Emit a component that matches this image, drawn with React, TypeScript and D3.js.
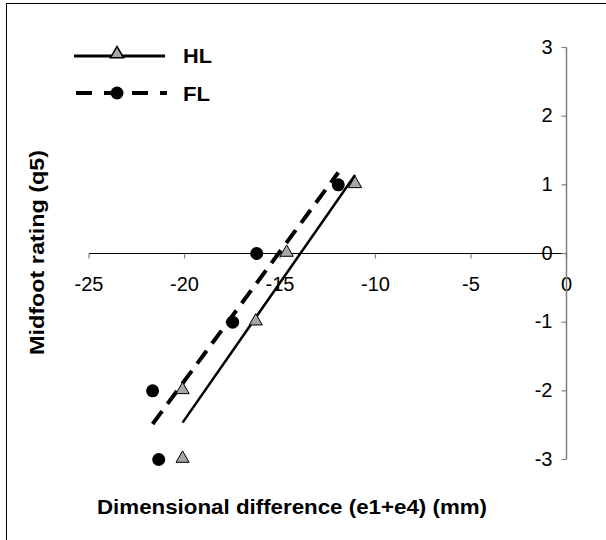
import React from "react";
import * as d3 from "d3";

const xTicks = [-25, -20, -15, -10, -5, 0];
const yTicks = [-3, -2, -1, 0, 1, 2, 3];
const hlX = [-11.07, -14.65, -16.27, -20.1, -20.1];
const hlY = [1, 0, -1, -2, -3];
const flX = [-11.95, -16.22, -17.48, -21.67, -21.35];
const flY = [1, 0, -1, -2, -3];
const seriesNames = ["HL", "FL"];
const xTitle = "Dimensional difference  (e1+e4) (mm)";
const yTitle = "Midfoot rating  (q5)";

function fit(xs: number[], ys: number[]) {
  const mx = d3.mean(xs)!;
  const my = d3.mean(ys)!;
  let sxy = 0, sxx = 0;
  xs.forEach((x, i) => { sxy += (x - mx) * (ys[i] - my); sxx += (x - mx) ** 2; });
  const b = sxy / sxx;
  const a = my - b * mx;
  const [x0, x1] = d3.extent(xs) as [number, number];
  return [[x0, a + b * x0], [x1, a + b * x1]];
}

export default function App() {
  const W = 606, H = 540;
  const x = d3.scaleLinear().domain([-25, 0]).range([89, 566.5]);
  const y = d3.scaleLinear().domain([-3, 3]).range([459.5, 47.5]);
  const font = "Arial, 'Liberation Sans', sans-serif";
  const line = d3.line<number[]>().x(d => x(d[0])).y(d => y(d[1]));
  const hlFit = fit(hlX, hlY);
  const flFit = fit(flX, flY);
  const tri = d3.symbol().type(d3.symbolTriangle).size(75)()!;
  const y0 = y(0);
  return (
    <svg width={W} height={H} style={{ position: "absolute", left: 0, top: 0, background: "#fff" }} fontFamily={font}>
      <rect x={6.5} y={3.5} width={W + 10} height={H + 10} fill="#fff" stroke="#000" strokeWidth={1} />
      {/* x axis */}
      <line x1={x(-25)} x2={x(0)} y1={y0} y2={y0} stroke="#000" strokeWidth={1} />
      {xTicks.map(t => (
        <g key={"xt" + t}>
          <line x1={x(t)} x2={x(t)} y1={y0} y2={y0 + 5} stroke={t === 0 ? "#000" : "#808080"} strokeWidth={1.2} />
          <text x={x(t)} y={y0 + 37} textAnchor="middle" fontSize={20} fill="#000">{t}</text>
        </g>
      ))}
      {/* y axis */}
      <line x1={x(0)} x2={x(0)} y1={y(3)} y2={y(-3)} stroke="#808080" strokeWidth={1.5} />
      {yTicks.map(t => (
        <g key={"yt" + t}>
          <line x1={x(0) - 5} x2={x(0)} y1={y(t)} y2={y(t)} stroke="#808080" strokeWidth={1.2} />
          <text x={x(0) - 14} y={y(t) + 6} textAnchor="end" fontSize={20} fill="#000">{t}</text>
        </g>
      ))}
      {/* trend lines */}
      <path d={line(hlFit)!} stroke="#000" strokeWidth={2.5} fill="none" />
      <path d={line(flFit)!} stroke="#000" strokeWidth={4} strokeDasharray="16,9" fill="none" />
      {/* points */}
      {hlX.map((v, i) => (
        <path key={"h" + i} d={tri} transform={`translate(${x(v)},${y(hlY[i]) - 1})`} fill="#a6a6a6" stroke="#000" strokeWidth={1} />
      ))}
      {flX.map((v, i) => (
        <circle key={"f" + i} cx={x(v)} cy={y(flY[i])} r={6.5} fill="#000" />
      ))}
      {/* legend */}
      <line x1={74} x2={165} y1={56} y2={56} stroke="#000" strokeWidth={3} />
      <path d={tri} transform="translate(117,54)" fill="#a6a6a6" stroke="#000" strokeWidth={1.5} />
      <text x={183} y={63} fontSize={20} fontWeight="bold" textLength={29} lengthAdjust="spacingAndGlyphs">{seriesNames[0]}</text>
      <line x1={76} x2={167} y1={93} y2={93} stroke="#000" strokeWidth={4} strokeDasharray="16,12" />
      <circle cx={117} cy={93} r={6.5} fill="#000" />
      <text x={183} y={101} fontSize={20} fontWeight="bold" textLength={27} lengthAdjust="spacingAndGlyphs">{seriesNames[1]}</text>
      {/* titles */}
      <text x={97} y={514} fontSize={21} fontWeight="bold" textLength={390} lengthAdjust="spacingAndGlyphs">{xTitle}</text>
      <text transform={`translate(44,355) rotate(-90)`} fontSize={21} fontWeight="bold" textLength={205} lengthAdjust="spacingAndGlyphs">{yTitle}</text>
    </svg>
  );
}
